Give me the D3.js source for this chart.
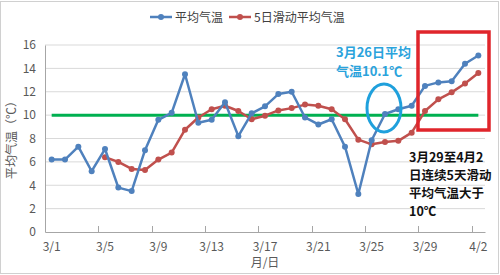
<!DOCTYPE html>
<html>
<head>
<meta charset="utf-8">
<script src="https://cdn.jsdelivr.net/npm/d3@7"></script>
<style>
  body { margin: 0; background: #fff; }
  text { font-family: "Noto Sans CJK SC", "Noto Sans", sans-serif; }
</style>
</head>
<body>
<div id="chart"></div>
<script>
const width = 500;
const height = 275;

// categories, 3/1 .. 4/2
const dates = ["3/1","3/2","3/3","3/4","3/5","3/6","3/7","3/8","3/9","3/10","3/11",
  "3/12","3/13","3/14","3/15","3/16","3/17","3/18","3/19","3/20","3/21","3/22",
  "3/23","3/24","3/25","3/26","3/27","3/28","3/29","3/30","3/31","4/1","4/2"];

// daily mean temperature
const dailyTemp = [6.2,6.2,7.3,5.2,7.1,3.8,3.5,7.0,9.6,10.2,13.5,
  9.35,9.6,11.1,8.2,10.15,10.75,11.8,12.0,9.8,9.2,9.65,
  7.3,3.25,7.85,10.1,10.5,10.8,12.5,12.8,12.9,14.4,15.1];

// 5-day moving average, starts at 3/5
const avgDates = dates.slice(4);
const movingAvg = [6.4,6.0,5.4,5.3,6.2,6.8,8.75,
  9.8,10.5,10.8,10.35,9.65,9.95,10.4,10.6,10.9,10.8,10.5,
  9.65,7.9,7.5,7.7,7.8,8.5,10.35,11.35,11.95,12.7,13.6];

const yTicks = [0,2,4,6,8,10,12,14,16];
const xLabels = ["3/1","3/5","3/9","3/13","3/17","3/21","3/25","3/29","4/2"];
const threshold = 10;

const blue = "#4f81bd";
const red = "#c0504d";

const svg = d3.select("#chart")
  .append("svg")
  .attr("width", width)
  .attr("height", height);

// chart border
svg.append("rect")
  .attr("x", 0.5).attr("y", 1.5)
  .attr("width", width - 2).attr("height", height - 3)
  .attr("fill", "none")
  .attr("stroke", "#d0d0d0");

const xScale = d3.scaleBand()
  .domain(dates)
  .range([45, 485])
  .padding(0);
const cx = d => xScale(d) + xScale.bandwidth() / 2;

const yScale = d3.scaleLinear()
  .domain([0, 16])
  .range([232, 45]);

// gridlines
svg.append("g")
  .selectAll("line")
  .data(yTicks.slice(1))
  .enter()
  .append("line")
  .attr("x1", 45).attr("x2", 485)
  .attr("y1", d => yScale(d)).attr("y2", d => yScale(d))
  .attr("stroke", "#d9d9d9");

// y axis
const yAxis = d3.axisLeft(yScale).tickValues(yTicks).tickSize(0).tickPadding(9);
const gy = svg.append("g")
  .attr("transform", "translate(45,0)")
  .call(yAxis);
gy.select(".domain").attr("stroke", "#a6a6a6");
gy.selectAll("text").attr("font-size", 12).attr("fill", "#595959");

// x axis
const xAxis = d3.axisBottom(xScale).tickValues(xLabels).tickSize(0).tickPadding(10);
const gx = svg.append("g")
  .attr("transform", "translate(0,232)")
  .call(xAxis);
gx.select(".domain").attr("stroke", "#a6a6a6");
gx.selectAll("text").attr("font-size", 12).attr("fill", "#595959");

// tick marks between categories
svg.append("g")
  .selectAll("line")
  .data(xLabels)
  .enter()
  .append("line")
  .attr("x1", d => Math.round(xScale(d)) + 0.5)
  .attr("x2", d => Math.round(xScale(d)) + 0.5)
  .attr("y1", 232).attr("y2", 226)
  .attr("stroke", "#a6a6a6");

// axis titles
svg.append("text")
  .attr("transform", "translate(16,137) rotate(-90)")
  .attr("text-anchor", "middle")
  .attr("font-size", 12)
  .attr("fill", "#595959")
  .text("平均气温（℃）");

svg.append("text")
  .attr("x", 265).attr("y", 267)
  .attr("text-anchor", "middle")
  .attr("font-size", 12)
  .attr("fill", "#595959")
  .text("月/日");

// 10 degree line
svg.append("line")
  .attr("x1", cx(dates[0])).attr("x2", cx(dates[dates.length - 1]))
  .attr("y1", yScale(threshold)).attr("y2", yScale(threshold))
  .attr("stroke", "#00b050")
  .attr("stroke-width", 3);

const line = d3.line()
  .x(d => cx(d[0]))
  .y(d => yScale(d[1]));

function drawSeries(xs, ys, color) {
  const pts = xs.map((d, i) => [d, ys[i]]);
  svg.append("path")
    .datum(pts)
    .attr("d", line)
    .attr("fill", "none")
    .attr("stroke", color)
    .attr("stroke-width", 2.5)
    .attr("stroke-linejoin", "round");
  svg.append("g")
    .selectAll("circle")
    .data(pts)
    .enter()
    .append("circle")
    .attr("cx", d => cx(d[0]))
    .attr("cy", d => yScale(d[1]))
    .attr("r", 3)
    .attr("fill", color);
}

drawSeries(avgDates, movingAvg, red);
drawSeries(dates, dailyTemp, blue);

// legend
const legend = [
  {name: "平均气温", color: blue, x: 150},
  {name: "5日滑动平均气温", color: red, x: 229}
];
const lg = svg.append("g").selectAll("g").data(legend).enter().append("g")
  .attr("transform", d => "translate(" + d.x + ",17)");
lg.append("line").attr("x1", 0).attr("x2", 22)
  .attr("stroke", d => d.color).attr("stroke-width", 2.5);
lg.append("circle").attr("cx", 11).attr("r", 3).attr("fill", d => d.color);
lg.append("text").attr("x", 25).attr("y", 4.5)
  .attr("font-size", 12).attr("fill", "#404040")
  .text(d => d.name);

// annotations
svg.append("ellipse")
  .attr("cx", 384).attr("cy", 108)
  .attr("rx", 17).attr("ry", 24)
  .attr("fill", "none")
  .attr("stroke", "#1fa0dc")
  .attr("stroke-width", 3);

svg.append("g").selectAll("text")
  .data(["3月26日平均", "气温10.1℃"])
  .enter()
  .append("text")
  .attr("x", 336)
  .attr("y", (d, i) => 57 + i * 19)
  .attr("font-size", 13)
  .attr("font-weight", "bold")
  .attr("fill", "#2aa3dc")
  .text(d => d);

svg.append("rect")
  .attr("x", 418).attr("y", 32)
  .attr("width", 71).attr("height", 98)
  .attr("fill", "none")
  .attr("stroke", "#e0252b")
  .attr("stroke-width", 3.5);

svg.append("g").selectAll("text")
  .data(["3月29至4月2", "日连续5天滑动", "平均气温大于", "10℃"])
  .enter()
  .append("text")
  .attr("x", 409)
  .attr("y", (d, i) => 162 + i * 18)
  .attr("font-size", 12.5)
  .attr("font-weight", "bold")
  .attr("fill", "#111")
  .text(d => d);
</script>
</body>
</html>
